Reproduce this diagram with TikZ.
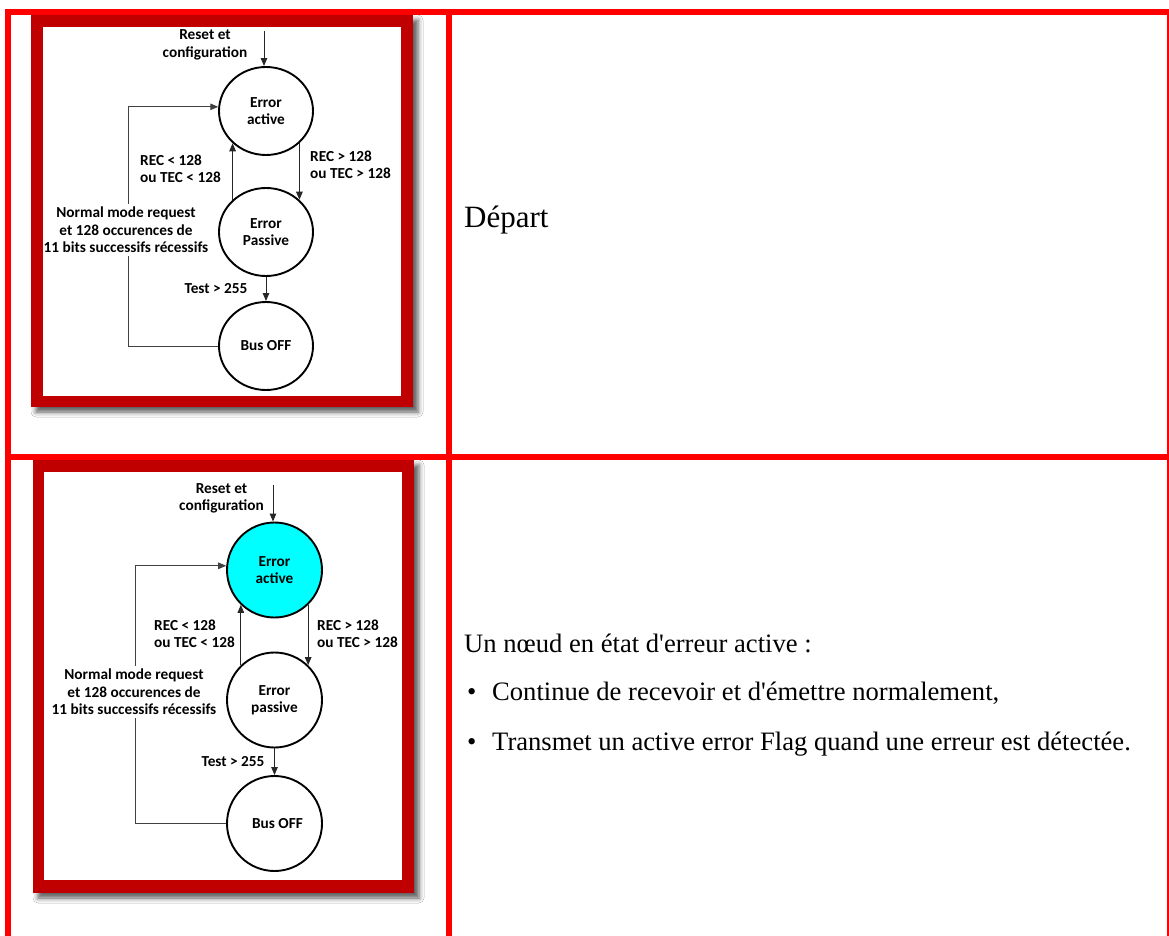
\documentclass[tikz,border=0pt]{standalone}
\usepackage{fontspec}
\setmainfont{Liberation Serif}
\newfontfamily\bodyfont{Liberation Serif}[Ligatures=TeXOff]
\newfontfamily\carlitofont{Carlito}
\usetikzlibrary{arrows.meta,shapes.geometric,shadows.blur,calc}
\definecolor{tablered}{HTML}{FF0000}
\definecolor{framered}{HTML}{C00000}
\definecolor{activecyan}{HTML}{00FFFF}

\begin{document}
\begin{tikzpicture}[x=1pt,y=-1pt,
  diafont/.style={font=\carlitofont\bfseries\fontsize{15.3}{17.5}\selectfont},
  stateA/.style={ellipse, draw=black, line width=1.9pt, minimum width=94pt,
    minimum height=88pt, inner sep=0pt, align=center, diafont},
  stateB/.style={circle, draw=black, line width=1.9pt, minimum size=95pt,
    inner sep=0pt, align=center, diafont},
  lbl/.style={inner sep=0pt, align=center, diafont},
  gaplbl/.style={lbl, fill=white, inner ysep=3pt},
  conn/.style={-{Triangle[length=8pt,width=6.5pt]}, line width=1pt, draw=black!85},
  loopline/.style={conn, draw=black!75},
  frame/.style={fill=framered, blur shadow={shadow xshift=5pt, shadow yshift=-5pt,
    shadow blur radius=5pt, shadow opacity=65}},
  body/.style={anchor=base west, inner sep=0pt, font=\bodyfont\fontsize{26.6}{32}\selectfont},
]
\useasboundingbox (0,0) rectangle (1169,936);
\fill[white] (0,0) rectangle (1169,936);

% ---------- table rules ----------
\fill[tablered] (5,9) rectangle (1169,15);
\fill[tablered] (5,9) rectangle (11,936);
\fill[tablered] (446,9) rectangle (452,936);
\fill[tablered] (5,454) rectangle (1169,460);
\fill[tablered] (1166.5,9) rectangle (1169,936);

% ---------- first diagram ----------
\fill[frame] (31,15) rectangle (413,407);
\fill[white] (43,27) rectangle (401,396);

\node[stateA] (act1)  at (266,111) {Error\\active};
\node[stateA] (pass1) at (266,232) {Error\\Passive};
\node[stateA] (bus1)  at (266,346) {Bus OFF};

\coordinate (rs1) at (264,31);
\node[lbl, font=\carlitofont\bfseries\fontsize{15.3}{18}\selectfont] (reset1) at (205,45) {Reset et\\configuration};
\draw[conn] (rs1) -- (rs1 |- act1.north);

\draw[conn] (pass1.136) -- (act1.224);
\draw[conn] (act1.-44) -- (pass1.44);
\draw[conn] (pass1.south) -- (bus1.north);

\draw[loopline] (bus1.west) -- ++(-90,0) |- (act1.175);

\node[lbl, anchor=west, align=left] (down1) at (140,169) {REC < 128\\ou TEC < 128};
\node[lbl, anchor=west, align=left] (up1) at (310,165) {REC > 128\\ou TEC > 128};
\node[gaplbl, inner xsep=0pt] (norm1) at (126,230) {Normal mode request\\et 128 occurences de\\11 bits successifs récessifs};
\node[lbl] (test1) at (216,289) {Test > 255};

% ---------- second diagram ----------
\fill[frame] (33,460) rectangle (414,893);
\fill[white] (44,472) rectangle (402,880);

\node[stateB, fill=activecyan] (act2) at (274.5,570) {Error\\active};
\node[stateB] (pass2) at (274.5,700) {Error\\passive};
\node[stateB] (bus2)  at (274.5,823.5) {\hspace*{6pt}Bus OFF};

\coordinate (rs2) at (273,485);
\node[lbl] (reset2) at (221.5,498.5) {Reset et\\configuration};
\draw[conn] (rs2) -- (rs2 |- act2.north);

\draw[conn] (pass2.134) -- (act2.226);
\draw[conn] (act2.-46) -- (pass2.46);
\draw[conn] (pass2.south) -- (bus2.north);

\draw[loopline] (bus2.west) -- ++(-91,0) |- (act2.175);

\node[lbl, anchor=west, align=left] (down2) at (154,634) {REC < 128\\ou TEC < 128};
\node[lbl, anchor=west, align=left] (up2) at (317,634) {REC > 128\\ou TEC > 128};
\node[gaplbl, inner xsep=2pt] (norm2) at (134,692) {Normal mode request\\et 128 occurences de\\11 bits successifs récessifs};
\node[lbl] (test2) at (233,762) {Test > 255};

% ---------- right column ----------
\node[body, font=\bodyfont\fontsize{31}{36}\selectfont] (depart) at (464,227) {Départ};
\node[body] (intro) at (464,652) {Un nœud en état d'erreur active :};
\node[body] (b1) at (467,700) {•};
\node[body] (t1) at (492,700) {Continue de recevoir et d'émettre normalement,};
\node[body] (b2) at (467,750) {•};
\node[body] (t2) at (492,750) {Transmet un active error Flag quand une erreur est détectée.};
\end{tikzpicture}
\end{document}
